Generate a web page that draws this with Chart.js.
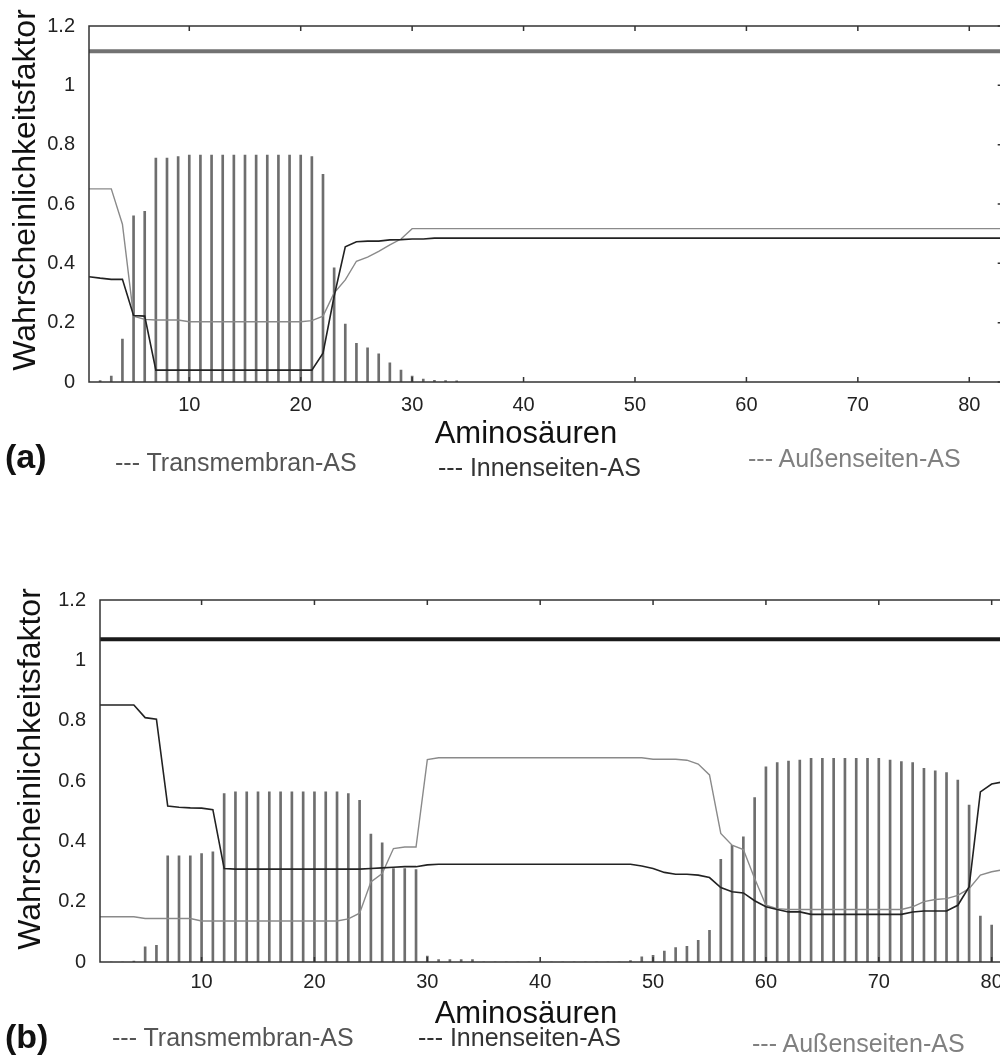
<!DOCTYPE html>
<html>
<head>
<meta charset="utf-8">
<script src="https://cdn.jsdelivr.net/npm/chart.js@4.4.0/dist/chart.umd.min.js"></script>
<style>
  body { margin: 0; width: 1000px; height: 1056px; overflow: hidden; background: #fff; position: relative; font-family: "Liberation Sans", Arial, sans-serif; }
  canvas { position: absolute; left: 0; }
  .lbl { position: absolute; white-space: nowrap; line-height: 1; }
</style>
</head>
<body>
<canvas id="chartA" width="1010" height="452" style="top:0px"></canvas>
<canvas id="chartB" width="1015" height="471" style="top:560px"></canvas>

<div class="lbl" style="left:5px;top:439px;font-size:34px;font-weight:bold;color:#111">(a)</div>
<div class="lbl" style="left:115px;top:450px;font-size:25px;color:#555">--- Transmembran-AS</div>
<div class="lbl" style="left:438px;top:455px;font-size:25px;color:#333">--- Innenseiten-AS</div>
<div class="lbl" style="left:748px;top:446px;font-size:25px;color:#808080">--- Außenseiten-AS</div>

<div class="lbl" style="left:5px;top:1019px;font-size:34px;font-weight:bold;color:#111">(b)</div>
<div class="lbl" style="left:112px;top:1025px;font-size:25px;color:#555">--- Transmembran-AS</div>
<div class="lbl" style="left:418px;top:1025px;font-size:25px;color:#333">--- Innenseiten-AS</div>
<div class="lbl" style="left:752px;top:1031px;font-size:25px;color:#808080">--- Außenseiten-AS</div>

<script>
// tick values shared by both panels
const xTicks = [10, 20, 30, 40, 50, 60, 70, 80];
const yTicks = [0, 0.2, 0.4, 0.6, 0.8, 1, 1.2];

// panel (a)
const posA = [1, 2, 3, 4, 5, 6, 7, 8, 9, 10, 11, 12, 13, 14, 15, 16, 17, 18, 19, 20,
  21, 22, 23, 24, 25, 26, 27, 28, 29, 30, 31, 32, 33, 34, 83];
const transA = [0, 0.005, 0.02, 0.145, 0.56, 0.575, 0.755, 0.755, 0.76, 0.765,
  0.765, 0.765, 0.765, 0.765, 0.765, 0.765, 0.765, 0.765, 0.765, 0.765,
  0.76, 0.70, 0.385, 0.195, 0.13, 0.115, 0.095, 0.065, 0.04, 0.02,
  0.01, 0.006, 0.005, 0.004, 0];
const innenA = [0.355, 0.35, 0.346, 0.346, 0.224, 0.222, 0.04, 0.04, 0.04, 0.04,
  0.04, 0.04, 0.04, 0.04, 0.04, 0.04, 0.04, 0.04, 0.04, 0.04,
  0.04, 0.097, 0.289, 0.456, 0.473, 0.475, 0.475, 0.479, 0.48, 0.482,
  0.482, 0.485, 0.485, 0.485, 0.485];
const aussenA = [0.651, 0.651, 0.651, 0.532, 0.222, 0.211, 0.209, 0.209, 0.209, 0.203,
  0.203, 0.203, 0.203, 0.203, 0.203, 0.203, 0.203, 0.203, 0.203, 0.203,
  0.207, 0.222, 0.30, 0.344, 0.407, 0.421, 0.44, 0.462, 0.482, 0.517,
  0.517, 0.517, 0.517, 0.517, 0.517];
const thresholdA = 1.115;

// panel (b)
const posB = [1, 2, 3, 4, 5, 6, 7, 8, 9, 10, 11, 12, 13, 14, 15, 16, 17, 18, 19, 20,
  21, 22, 23, 24, 25, 26, 27, 28, 29, 30, 31, 32, 33, 34, 35, 36, 37, 38, 39, 40,
  41, 42, 43, 44, 45, 46, 47, 48, 49, 50, 51, 52, 53, 54, 55, 56, 57, 58, 59, 60,
  61, 62, 63, 64, 65, 66, 67, 68, 69, 70, 71, 72, 73, 74, 75, 76, 77, 78, 79, 80, 81];
const transB = [0, 0, 0, 0.003, 0.05, 0.055, 0.352, 0.352, 0.352, 0.359,
  0.365, 0.558, 0.564, 0.564, 0.564, 0.564, 0.564, 0.564, 0.564, 0.564,
  0.564, 0.564, 0.558, 0.536, 0.424, 0.395, 0.31, 0.31, 0.306, 0.02,
  0.008, 0.008, 0.008, 0.008, 0, 0, 0, 0, 0, 0,
  0, 0, 0, 0, 0, 0, 0, 0.005, 0.017, 0.022,
  0.036, 0.048, 0.052, 0.072, 0.105, 0.34, 0.387, 0.415, 0.545, 0.647,
  0.661, 0.666, 0.669, 0.675, 0.675, 0.675, 0.675, 0.675, 0.675, 0.675,
  0.669, 0.664, 0.661, 0.642, 0.634, 0.628, 0.603, 0.52, 0.152, 0.122,
  0];
const innenB = [0.852, 0.852, 0.852, 0.852, 0.81, 0.805, 0.517, 0.513, 0.511, 0.51,
  0.505, 0.31, 0.308, 0.308, 0.308, 0.308, 0.308, 0.308, 0.308, 0.308,
  0.308, 0.308, 0.308, 0.308, 0.31, 0.312, 0.314, 0.316, 0.316, 0.322,
  0.324, 0.324, 0.324, 0.324, 0.324, 0.324, 0.324, 0.324, 0.324, 0.324,
  0.324, 0.324, 0.324, 0.324, 0.324, 0.324, 0.324, 0.324, 0.318, 0.31,
  0.297, 0.291, 0.291, 0.288, 0.28, 0.247, 0.233, 0.229, 0.203, 0.183,
  0.174, 0.166, 0.166, 0.158, 0.158, 0.158, 0.158, 0.158, 0.158, 0.158,
  0.158, 0.158, 0.166, 0.169, 0.169, 0.169, 0.188, 0.249, 0.564, 0.59,
  0.597];
const aussenB = [0.15, 0.15, 0.15, 0.15, 0.144, 0.144, 0.144, 0.144, 0.144, 0.136,
  0.136, 0.136, 0.136, 0.136, 0.136, 0.136, 0.136, 0.136, 0.136, 0.136,
  0.136, 0.136, 0.143, 0.162, 0.265, 0.293, 0.376, 0.381, 0.381, 0.671,
  0.677, 0.677, 0.677, 0.677, 0.677, 0.677, 0.677, 0.677, 0.677, 0.677,
  0.677, 0.677, 0.677, 0.677, 0.677, 0.677, 0.677, 0.677, 0.677, 0.672,
  0.672, 0.672, 0.669, 0.656, 0.62, 0.426, 0.387, 0.373, 0.277, 0.188,
  0.177, 0.174, 0.174, 0.174, 0.174, 0.174, 0.174, 0.174, 0.174, 0.174,
  0.174, 0.174, 0.183, 0.2, 0.207, 0.21, 0.221, 0.243, 0.288, 0.299,
  0.306];
const thresholdB = 1.07;

const FONT = '"Liberation Sans", Arial, sans-serif';

// frame, inward ticks and the two axis titles
const framePlugin = {
  id: 'frame',
  afterDraw(chart, args, opts) {
    const { ctx, chartArea: a, scales: { x, y } } = chart;
    ctx.save();
    ctx.strokeStyle = '#333';
    ctx.lineWidth = 1.5;
    ctx.strokeRect(a.left, a.top, a.right - a.left, a.bottom - a.top);
    ctx.beginPath();
    xTicks.forEach(v => {
      const px = x.getPixelForValue(v);
      ctx.moveTo(px, a.top); ctx.lineTo(px, a.top + 5);
      ctx.moveTo(px, a.bottom); ctx.lineTo(px, a.bottom - 5);
    });
    yTicks.forEach(v => {
      const py = y.getPixelForValue(v);
      ctx.moveTo(a.right, py); ctx.lineTo(a.right - 5, py);
    });
    ctx.stroke();

    ctx.fillStyle = '#111';
    ctx.textAlign = 'center';
    ctx.textBaseline = 'alphabetic';
    ctx.font = '31px ' + FONT;
    ctx.fillText('Aminosäuren', opts.xTitleX, opts.xTitleY);

    ctx.translate(opts.yTitleX, opts.yTitleY);
    ctx.rotate(-Math.PI / 2);
    ctx.font = '32px ' + FONT;
    ctx.fillText('Wahrscheinlichkeitsfaktor', 0, 0);
    ctx.restore();
  }
};

function makePanel(id, pos, trans, innen, aussen, threshold, thrColor, xMax, cfg) {
  const pts = vals => pos.map((p, i) => ({ x: p, y: vals[i] }));
  new Chart(document.getElementById(id), {
    type: 'bar',
    data: {
      datasets: [
        { type: 'line', data: [{ x: 1, y: threshold }, { x: xMax, y: threshold }],
          borderColor: thrColor, borderWidth: 4, pointRadius: 0, order: 1 },
        { type: 'line', label: 'Innenseiten-AS', data: pts(innen),
          borderColor: '#222', borderWidth: 1.6, pointRadius: 0, tension: 0, order: 2 },
        { type: 'line', label: 'Außenseiten-AS', data: pts(aussen),
          borderColor: '#8a8a8a', borderWidth: 1.4, pointRadius: 0, tension: 0, order: 3 },
        { type: 'bar', label: 'Transmembran-AS', data: pts(trans),
          backgroundColor: '#6e6e6e', barThickness: 2, order: 4 }
      ]
    },
    options: {
      responsive: false,
      animation: false,
      events: [],
      layout: { padding: { top: cfg.top, right: cfg.right, left: 0, bottom: 0 } },
      plugins: {
        legend: { display: false },
        tooltip: { enabled: false },
        frame: { xTitleX: 526, xTitleY: cfg.xTitleY, yTitleX: cfg.yTitleX, yTitleY: cfg.yTitleY }
      },
      scales: {
        x: {
          type: 'linear', min: 1, max: xMax, offset: false,
          afterBuildTicks: s => { s.ticks = xTicks.map(v => ({ value: v })); },
          afterFit: s => { s.height = cfg.xHeight; },
          grid: { display: false, drawTicks: false },
          border: { display: false },
          ticks: { font: { family: FONT, size: 20 }, color: '#222', padding: cfg.xPad, maxRotation: 0, autoSkip: false }
        },
        y: {
          min: 0, max: 1.2,
          afterBuildTicks: s => { s.ticks = yTicks.map(v => ({ value: v })); },
          afterFit: s => { s.width = cfg.left; },
          grid: { display: false, drawTicks: false },
          border: { display: false },
          ticks: { font: { family: FONT, size: 20 }, color: '#222', padding: 14, callback: v => String(v) }
        }
      }
    },
    plugins: [framePlugin]
  });
}

makePanel('chartA', posA, transA, innenA, aussenA, thresholdA, '#727272', 83,
  { top: 20, right: 7.3, left: 89, xHeight: 70, xPad: 11, xTitleY: 443, yTitleX: 35, yTitleY: 190 });
makePanel('chartB', posB, transB, innenB, aussenB, thresholdB, '#1a1a1a', 81.5,
  { top: 40, right: 6.4, left: 100, xHeight: 69, xPad: 8, xTitleY: 463, yTitleX: 40, yTitleY: 209 });
</script>
</body>
</html>
